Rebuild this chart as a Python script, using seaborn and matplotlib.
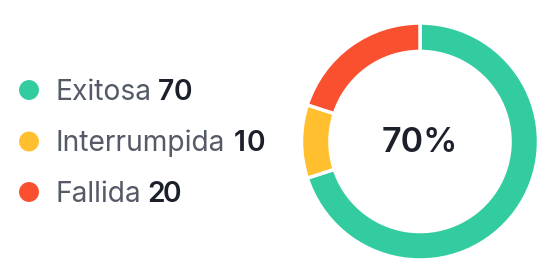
import matplotlib
matplotlib.use("Agg")
import matplotlib.pyplot as plt
import seaborn as sns
import pandas as pd

# Outcome categories and counts
categories = ["Exitosa", "Interrumpida", "Fallida"]
counts = [70, 10, 20]
colors = ["#32CCA0", "#FFBF2F", "#F9502F"]
center_label = "70%"

sns.set_theme(style="white")
plt.rcParams["font.family"] = ["Inter", "DejaVu Sans"]

W, H, DPI = 552, 278, 100
fig = plt.figure(figsize=(W / DPI, H / DPI), dpi=DPI)
fig.patch.set_facecolor("white")

# Legend panel in pixel coordinates
leg = fig.add_axes([0, 0, 1, 1])
rows_y = [90, 141.5, 192]
df = pd.DataFrame({"x": [29] * 3, "y": rows_y, "cat": categories})
sns.scatterplot(data=df, x="x", y="y", hue="cat", palette=colors,
                s=205, linewidth=0, legend=False, ax=leg)
leg.set_xlim(0, W)
leg.set_ylim(H, 0)
leg.axis("off")

fig.canvas.draw()
renderer = fig.canvas.get_renderer()
digit_w = 16.5  # fixed-width figures for the counts
for cat, val, y in zip(categories, counts, rows_y):
    t = leg.text(56, y + 9.5, cat, fontsize=20.3, color="#555A67",
                 va="baseline", ha="left")
    bb = t.get_window_extent(renderer=renderer)
    x0 = leg.transData.inverted().transform((bb.x1, bb.y0))[0] + 6
    for i, ch in enumerate(str(val)):
        leg.text(x0 + digit_w * (i + 0.5), y + 9.5, ch, fontsize=20.3,
                 fontweight="semibold", color="#1C202B",
                 va="baseline", ha="center")

# Donut chart
cx, cy, r = 420, 278 - 141.5, 118.5
ax = fig.add_axes([(cx - r) / W, (cy - r) / H, 2 * r / W, 2 * r / H])
ax.pie(counts, colors=colors, startangle=90, counterclock=False, radius=1,
       wedgeprops=dict(width=0.24, edgecolor="white", linewidth=2.5))
ax.set_xlim(-1.0, 1.0)
ax.set_ylim(-1.0, 1.0)
ax.set_aspect("equal")
ax.axis("off")
ax.text(0, -0.086, center_label, ha="center", va="baseline", fontsize=24.5,
        fontweight="semibold", color="#1C202B")

fig.savefig("out.png", dpi=DPI, facecolor="white")
